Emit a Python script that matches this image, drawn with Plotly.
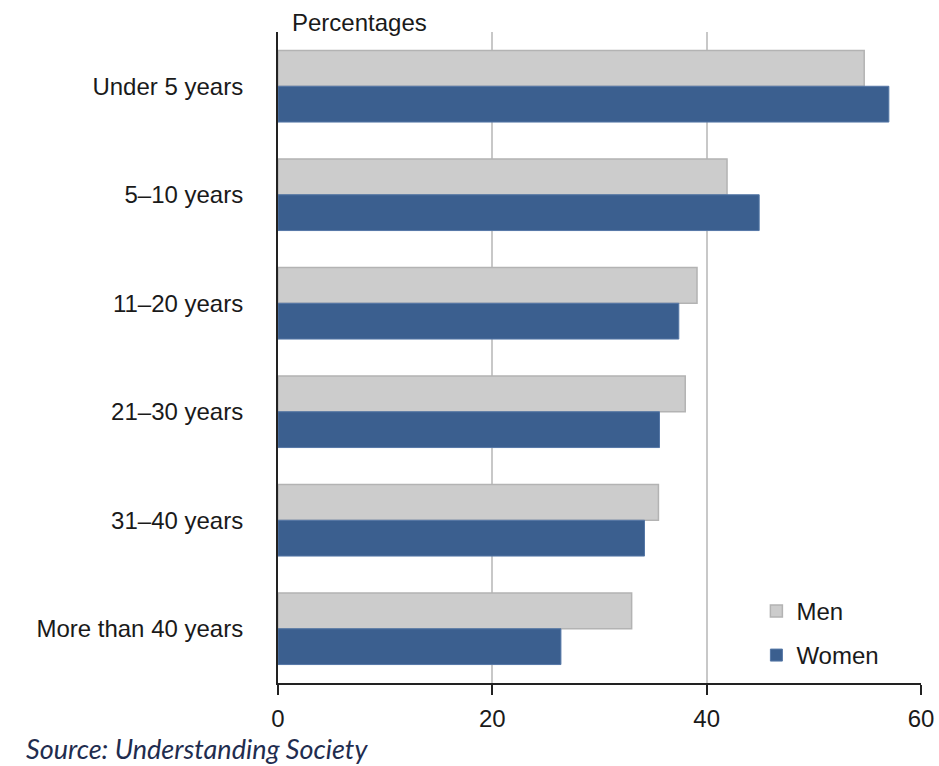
import plotly.graph_objects as go

categories = ["Under 5 years", "5–10 years", "11–20 years", "21–30 years", "31–40 years", "More than 40 years"]
men = [54.7, 41.9, 39.1, 38.0, 35.5, 33.0]
women = [57.0, 44.9, 37.4, 35.6, 34.2, 26.4]
x_ticks = [0, 20, 40, 60]

fig = go.Figure()
fig.add_trace(go.Bar(y=categories, x=men, orientation="h", name="Men",
                     marker=dict(color="#cccccc", line=dict(color="#b3b3b3", width=1.5)),
                     legendgroup="m"))
fig.add_trace(go.Bar(y=categories, x=women, orientation="h", name="Women",
                     marker=dict(color="#3b5f8f", line=dict(color="#5577a6", width=1)),
                     legendgroup="w"))

fig.update_layout(
    width=939, height=766,
    margin=dict(l=278, r=18, t=32, b=83, autoexpand=False),
    paper_bgcolor="white", plot_bgcolor="white",
    barmode="group", bargap=0.34, bargroupgap=0,
    font=dict(family="Liberation Sans, Arial, sans-serif", size=24, color="#1a1a1a"),
    legend=dict(x=0.744, y=0.008, xanchor="left", yanchor="bottom",
                bgcolor="rgba(0,0,0,0)", font=dict(size=24),
                traceorder="grouped", tracegroupgap=10, itemwidth=30),
    showlegend=True,
    xaxis=dict(range=[0, 60], tickvals=x_ticks, ticktext=[str(v) for v in x_ticks],
               showgrid=True, gridcolor="#c8c8c8", gridwidth=1.5,
               showline=True, linecolor="#222222", linewidth=2,
               ticks="outside", ticklen=10, tickwidth=2, tickcolor="#222222",
               ticklabelstandoff=3, zeroline=False, fixedrange=True, automargin=False),
    yaxis=dict(autorange="reversed", showline=True, linecolor="#222222", linewidth=2,
               ticks="", ticklabelstandoff=28, showgrid=False, fixedrange=True, automargin=False),
)

fig.add_annotation(text="Percentages", xref="paper", yref="paper", x=0.018, y=1.0,
                   xanchor="left", yanchor="bottom", showarrow=False,
                   font=dict(size=24, color="#1a1a1a"), yshift=-6)
fig.add_annotation(text="<i>Source: Understanding Society</i>", xref="paper", yref="paper",
                   x=-0.395, y=0, xanchor="left", yanchor="top", showarrow=False,
                   yshift=-47, font=dict(family="Lato, sans-serif", size=27, color="#1f2d4f"))

fig.write_html("out.html")
